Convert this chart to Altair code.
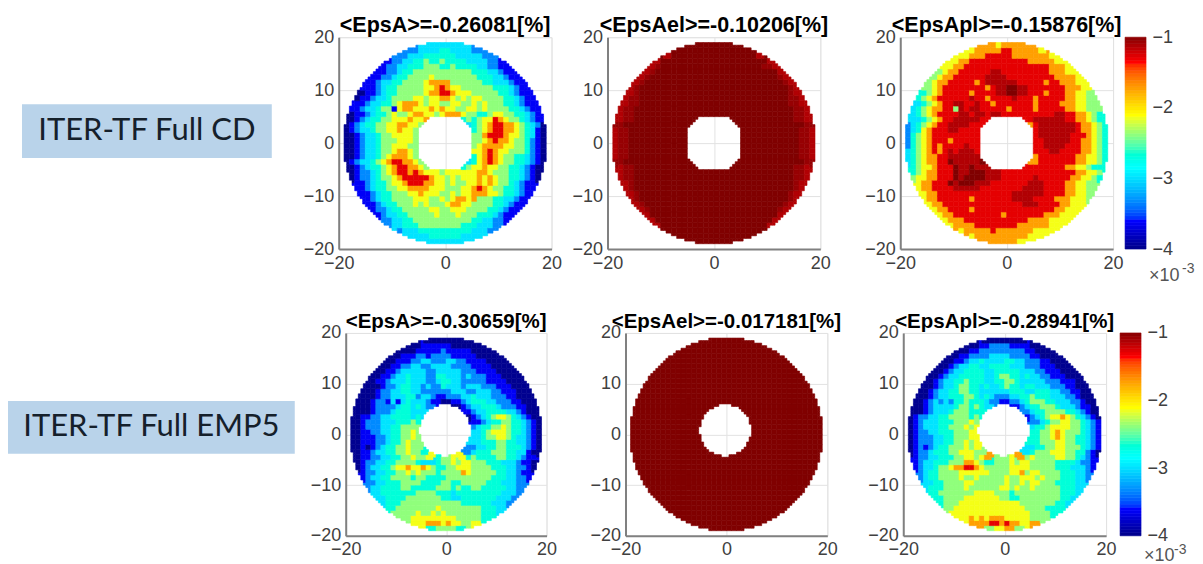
import altair as alt
import pandas as pd

# Hand-read colour levels, one string per grid row, from y=18.5 down to y=-18.5.
# Rows crossing the central hole hold a left and a right part.
LEVEL_VALUES = {"0": -4.0, "1": -3.65, "2": -3.35, "3": -3.0, "4": -2.7, "5": -2.4,
                "6": -2.15, "7": -1.75, "8": -1.3, "9": -1.0, "x": -1.15, "e": -1.07}
HOLE_HALF = [0] * 14 + [3, 4, 5, 5, 5, 5, 5, 5, 4, 3] + [0] * 14

CD_A = [
    "33333333", "22333344333322", "223334444443333322", "1223344544544443333221",
    "122334445554454444332211", "11223445555555555544433211", "1122344555565555555544433211",
    "112334455556777755555544333211", "11123445555566787665555554443211",
    "01123445555567788766655555443211", "0112334555566566776565665555443211",
    "1123344567776566556655656555443211", "112334551677666767665566565555443211",
    "011234456556776656777655445665544321",
    "012344556667667 454566876554321", "012344556677665 345678877654320",
    "01233455667665 45678877654310", "00123345566665 55788876654310",
    "00123345556665 55678776554210", "00123345566655 56777766554210",
    "00123345567765 66787665554210", "00123345677765 46787655443210",
    "012334567887765 346787655443210", "012344567887765 456676655443210",
    "012234567887876665666666776555443210", "012234556788888766565666767655443210",
    "1123445667888776656556676765543211", "1123445566777766655566787655443211",
    "11234455566766655656677766544321", "11234455556665565677675554433211",
    "112344555656555677665555443211", "1223445555566556665555443211",
    "12334455555655565554443211", "223344555555555554433221", "2334445555555544433322",
    "233344444444443332", "33334444443333", "33333333",
]
CD_EL = [
    "99999999", "99999999999999", "x9999999999999999x", "x99999999999999999999x",
    "xe9999999999999999999eex", "xe99999999999999999999999x", "xe999999999999999999999999ex",
    "xe99999999999999999999999999ex", "xe9999999999999999999999999999ex",
    "xe9999999999999999999999999999ex", "xee9999999999999999999999999999eex",
    "xee9999999999999999999999999999eex", "xee999999999999999999999999999999eex",
    "xee999999999999999999999999999999eex",
    "xee999999999999 999999999999eex", "xee9999999999999 9999999999999eex",
    "xee99999999999 99999999999eex", "xee99999999999 99999999999eex",
    "xee99999999999 99999999999eex", "xee99999999999 99999999999eex",
    "xee99999999999 99999999999eex", "xee99999999999 99999999999eex",
    "xee9999999999999 9999999999999eex", "xee999999999999 999999999999eex",
    "xee999999999999999999999999999999eex", "xee999999999999999999999999999999eex",
    "xe999999999999999999999999999999ex", "xe999999999999999999999999999999ex",
    "xe9999999999999999999999999999ex", "xe9999999999999999999999999999ex",
    "xe99999999999999999999999999ex", "xe999999999999999999999999ex",
    "x999999999999999999999999x", "x9999999999999999999999x", "x99999999999999999999x",
    "999999999999999999", "99999999999999", "99999999",
]
CD_PL = [
    "77677777", "67777788777776", "667778888877777776", "6677888888888887777766",
    "667788888888888888887776", "5677888888xx88888888877766", "5677888888xxxx88888888877776",
    "56778888878xxxxxx88888788777666", "55678888888878xx99xx888888877766",
    "45678888878888xx99xx888788877665", "4567888888x8878888x888788888776655",
    "3456788xx88x8878888888788887776655", "345677885x8xx88888788887888887766555",
    "345678888xx8xx8xx8888888888xx8877654",
    "33456788xxxxx88 88xxxxxx8877654", "23456788xxxx888 78xxxxxxx877654",
    "23467888xx8888 8xxxxxxx877654", "24567888888888 8xxxxxx8887654",
    "24567888788888 88xxxxx8877654", "24567878888x88 88xxxx88877654",
    "34567878x8xxx8 888xx888877654", "34567788xxxxxx 78888888776654",
    "345677889xxxxx9 778888888776654", "456678889xx9xxx 888888887766544",
    "456778889xx999xxx88888888888888776654", "566778889x9999xxx888888x888888776654",
    "6778889x999xxx8888888xxx8888776655", "6778888xxxxx88888888xxxx8888776655",
    "67788888888888888xxxxxx888877665", "67788888878888888xxxx88887776665",
    "677888888888888888xxx888877666", "6778888788888888888888877666",
    "67788888888878888888777666", "677788888888888877776666", "6777788888888777777666",
    "677777877777776666", "67777777777666", "77777766",
]
EMP_A = [
    "00000000", "00111111000000", "000111112111110000", "0011122122221111100000",
    "001112233222332211110000", "00112233223333222211110000", "0011233333223333322211110000",
    "001123343332244333232221110000", "00112333433322344332222211110000",
    "00012234433232243332333222111000", "0001223344332222223332233322111000",
    "0001223334423321122233433322211000", "000122131343332110011234443322211000",
    "000122223443432211000123344432221100",
    "000122234443333 112334444332100", "001122334444343 012345665432100",
    "00122233344454 11234455443210", "00122233445555 23445565443210",
    "00112233445565 33456665443210", "00111223445565 33455665433210",
    "00111223445655 33444554433210", "00101234455655 23344554443210",
    "001123344556554 234445554433100", "011223344556556 645444455443211",
    "012233445555433345565665554443332110", "012334456676676544556665555444332210",
    "1223344556565554555576555554433211", "1233445555455444455555555544433221",
    "22334445555444455445555544433322", "23344445544444555454455444443322",
    "334444444555544434444444443332", "3344445555555443344444443332",
    "34445555555555554444443332", "445555555565555555544433", "5555565565655555554443",
    "556666666665555544", "66677767665566", "44555544",
]
EMP_EL_LEVEL = "9"
EMP_PL = [
    "00000000", "00112222111100", "001122222222211000", "0011222233332222110000",
    "001123343333443322211000", "00123344334444333222111000", "0012334444334444433322111000",
    "001233444443345544343322111000", "00123344544433445543333322211100",
    "00123345544343345443443332221100", "0012334455443333334443344433221100",
    "0012334445543432223344544433322100", "001232324454443221122345554433322100",
    "001233334554543322111234455543332110",
    "001233345554444 223445555443210", "012233445555454 123456676543210",
    "01233344455565 22345566554321", "01233344555656 34456666554321",
    "01223344455566 44556765554321", "01222334455566 44556765544321",
    "01222334455656 44555665544321", "01212344555656 34455665554321",
    "012234445566655 345556665544210", "122334445566567 756555566554321",
    "123344455577654455565665555544443221", "123345567788765555566665555544433321",
    "2344555566666655556675665555444332", "2344555565565555565566656555444332",
    "33445555665555556556566555444433", "34445555655555566565565555544433",
    "445555555666655545555555554443", "4455556666666554455555555443",
    "45556666666666665555555443", "556666666666666655554444", "6666666666666666555544",
    "667676777666665555", "77778878776677", "55667755",
]

TITLES_TOP = ["<EpsA>=-0.26081[%]", "<EpsAel>=-0.10206[%]", "<EpsApl>=-0.15876[%]"]
TITLES_BOTTOM = ["<EpsA>=-0.30659[%]", "<EpsAel>=-0.017181[%]", "<EpsApl>=-0.28941[%]"]
LABELS = ["ITER-TF Full CD", "ITER-TF Full EMP5"]
JET_DOMAIN = [-4, -3.625, -2.875, -2.125, -1.375, -1]
JET_RANGE = ["#000090", "#0000ff", "#00ffff", "#ffff00", "#ff0000", "#800000"]
COLORBAR_STEPS = [-4 + 3 * i / 64 for i in range(65)]
X_TICKS = [-20, 0, 20]
Y_TICKS = [-20, -10, 0, 10, 20]
CB_TICKS = [-1, -2, -3, -4]

color_scale = alt.Scale(domain=JET_DOMAIN, range=JET_RANGE, clamp=True)


def parse_cells(rows):
    """Map (x, y) lower-left unit cell -> value, from the hand-read rows."""
    cells = {}
    for i, row in enumerate(rows):
        y = 18 - i
        parts = row.split()
        if len(parts) == 2:
            h = HOLE_HALF[i]
            cols = [(-h - len(parts[0]) + j, c) for j, c in enumerate(parts[0])]
            cols += [(h + j, c) for j, c in enumerate(parts[1])]
        else:
            s = parts[0]
            start = -(len(s) // 2)
            cols = [(start + j, c) for j, c in enumerate(s)]
        for x, c in cols:
            cells[(x, y)] = LEVEL_VALUES[c]
    return cells


def in_domain(px, py, octagon, hole_c):
    if px * px + py * py > 19.05 ** 2:
        return False
    if octagon:
        return not (abs(px) < 5 and abs(py) < 5 and abs(px) + abs(py) < 7.6)
    dx, dy = px - hole_c[0], py - hole_c[1]
    return dx * dx + dy * dy > 5.1 ** 2


def nearest(cells, px, py):
    key = min(cells, key=lambda k: (k[0] + .5 - px) ** 2 + (k[1] + .5 - py) ** 2)
    return cells[key]


def grid_frame(rows, octagon, hole_c=(-0.2, 0.8)):
    cells = parse_cells(rows)
    out = []
    for x in range(-20, 20):
        for y in range(-20, 20):
            subs = [(x + a / 2, y + b / 2) for a in range(2) for b in range(2)]
            keep = [s for s in subs if in_domain(s[0] + .25, s[1] + .25, octagon, hole_c)]
            if not keep:
                continue
            if len(keep) == 4 and (x, y) in cells:
                out.append({"x": x, "x2": x + 1, "y": y, "y2": y + 1, "v": cells[(x, y)]})
                continue
            for sx, sy in keep:
                v = cells[(x, y)] if (x, y) in cells else nearest(cells, sx + .25, sy + .25)
                out.append({"x": sx, "x2": sx + .5, "y": sy, "y2": sy + .5, "v": v})
    return pd.DataFrame(out)


def panel(rows, title, w, h, octagon, title_size):
    common = dict(title=None, grid=True, gridColor="#e2e2e2", domainColor="#808080", domainWidth=2,
                  tickSize=0, labelFontSize=18, labelColor="#404040", labelPadding=5,
                  labelFont="Liberation Sans", labelFlush=False)
    base = alt.Chart(grid_frame(rows, octagon)).mark_rect(strokeWidth=0.6).encode(
        x=alt.X("x:Q", scale=alt.Scale(domain=[-20, 20], nice=False), axis=alt.Axis(values=X_TICKS, **common)),
        x2="x2:Q",
        y=alt.Y("y:Q", scale=alt.Scale(domain=[-20, 20], nice=False), axis=alt.Axis(values=Y_TICKS, **common)),
        y2="y2:Q",
        color=alt.Color("v:Q", scale=color_scale, legend=None),
        stroke=alt.Stroke("v:Q", scale=color_scale, legend=None),
    )
    head = alt.Chart(pd.DataFrame({"t": [title]})).mark_text(
        font="Liberation Sans", fontSize=title_size, fontWeight="bold", color="black",
        align="center", baseline="alphabetic").encode(
        x=alt.value(w / 2), y=alt.value(-5), text="t:N")
    return (base + head).properties(width=w, height=h, view=alt.ViewBackground(stroke="#e6e6e6"))


def spacer(w, h):
    return alt.Chart(pd.DataFrame({"a": [0]})).mark_point(opacity=0).encode(
        x=alt.value(0)).properties(width=w, height=h, view=alt.ViewBackground(stroke=None))


def label(text, w, h, x0, x1, y0, y1, size):
    d = pd.DataFrame({"t": [text]})
    anchor = alt.Chart(d).mark_rect(opacity=0).encode(
        x=alt.value(0), x2=alt.value(w), y=alt.value(0), y2=alt.value(h))
    box = alt.Chart(d).mark_rect(color="#b9d3ea").encode(
        x=alt.value(x0), x2=alt.value(x1), y=alt.value(y0), y2=alt.value(y1))
    txt = alt.Chart(d).mark_text(font="Lato", fontSize=size, color="#15202b").encode(
        x=alt.value((x0 + x1) / 2), y=alt.value((y0 + y1) / 2), text="t:N")
    return (anchor + box + txt).properties(width=w, height=h, view=alt.ViewBackground(stroke=None))


def colorbar(w, h, tx, ty, sx, sy):
    d = pd.DataFrame({"a": COLORBAR_STEPS[:-1], "b": COLORBAR_STEPS[1:]})
    rect = alt.Chart(d).mark_rect(strokeWidth=0.6).encode(
        x=alt.value(0), x2=alt.value(w),
        y=alt.Y("a:Q", scale=alt.Scale(domain=[-4, -1], nice=False),
                axis=alt.Axis(orient="right", values=CB_TICKS, format="d", title=None, grid=False, domain=False,
                              ticks=False, labelFontSize=18, labelColor="#404040", labelPadding=6,
                              labelFont="Liberation Sans", labelFlush=False)),
        y2="b:Q",
        color=alt.Color("a:Q", scale=color_scale, legend=None),
        stroke=alt.Stroke("a:Q", scale=color_scale, legend=None),
    )
    t1 = alt.Chart(pd.DataFrame({"t": ["×10"]})).mark_text(
        font="Liberation Sans", fontSize=18, color="#555555", align="left").encode(
        x=alt.value(tx), y=alt.value(ty), text="t:N")
    t2 = alt.Chart(pd.DataFrame({"t": ["-3"]})).mark_text(
        font="Liberation Sans", fontSize=14, color="#555555", align="left").encode(
        x=alt.value(sx), y=alt.value(sy), text="t:N")
    return (rect + t1 + t2).properties(width=w, height=h, view=alt.ViewBackground(stroke=None))


emp_el = ["".join(EMP_EL_LEVEL if c != " " else " " for c in r) for r in EMP_A]

row1 = alt.hconcat(
    label(LABELS[0], 331, 212, 14, 264, 67, 121, 31),
    panel(CD_A, TITLES_TOP[0], 213, 212, True, 21.5), spacer(56, 212),
    panel(CD_EL, TITLES_TOP[1], 213, 212, True, 21.5), spacer(80, 212),
    panel(CD_PL, TITLES_TOP[2], 213, 212, True, 21.5), spacer(12, 212),
    colorbar(21, 212, 24, 239, 57, 232),
    spacing=0, bounds="flush")
row2 = alt.hconcat(
    label(LABELS[1], 338, 203, 0, 287, 68, 121, 31),
    panel(EMP_A, TITLES_BOTTOM[0], 201, 203, False, 20.5), spacer(79, 203),
    panel(emp_el, TITLES_BOTTOM[1], 202, 203, False, 20.5), spacer(76, 203),
    panel(EMP_PL, TITLES_BOTTOM[2], 203, 203, False, 20.5), spacer(14, 203),
    colorbar(21, 203, 24, 223, 54, 217),
    spacing=0, bounds="flush")

chart = alt.vconcat(row1, row2, spacing=26).properties(
    padding={"left": 0, "top": 6, "right": 0, "bottom": 0}
).configure_axis(gridWidth=1)

chart.save("out.html", embed_options={"renderer": "svg", "actions": False})
